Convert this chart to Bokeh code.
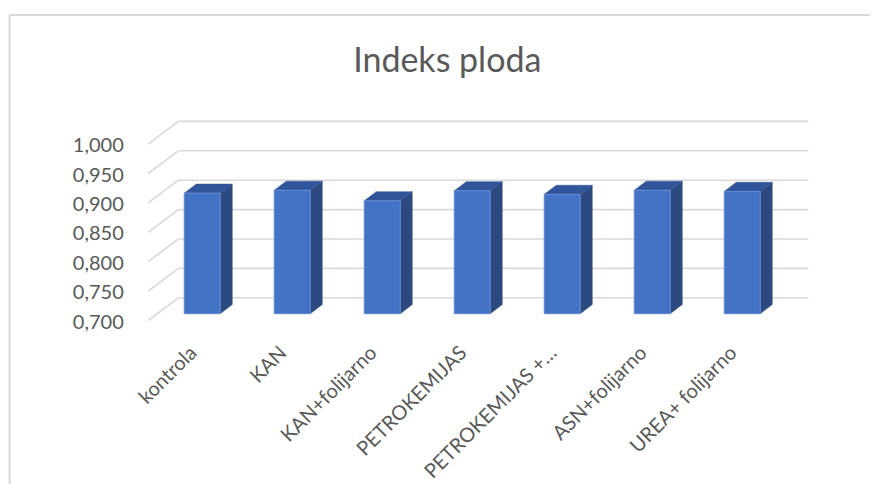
import math
from bokeh.plotting import figure
from bokeh.models import Range1d
from bokeh.core.properties import value
from bokeh.embed import file_html
from bokeh.resources import INLINE

# ---- data ----
categories = ["kontrola", "KAN", "KAN+folijarno", "PETROKEMIJAS",
              "PETROKEMIJAS +…", "ASN+folijarno", "UREA+ folijarno"]
indeks = [0.905, 0.910, 0.892, 0.909, 0.903, 0.910, 0.908]
y_ticks = [0.700, 0.750, 0.800, 0.850, 0.900, 0.950, 1.000]
y_tick_labels = ["0,700", "0,750", "0,800", "0,850", "0,900", "0,950", "1,000"]
title_text = "Indeks ploda"

# ---- layout constants (pixels) ----
W, H = 870, 484
PX_X = 90.0          # px per category
PX_Y = 588.0         # px per value unit
X0 = 192.75          # px from left of figure to category 0 (front plane)
Y0 = 320.0           # px from top of figure to value 0.700 (front plane)
YMIN = 0.700
DX_BACK = 30.0 / PX_X      # depth offset to back wall (x, data units)
DY_BACK = 22.7 / PX_Y      # depth offset to back wall (y, data units)
F1, F2 = 0.3, 0.7          # bar front / back depth fraction
BW = 36.0 / PX_X           # bar width
FONT = "Lato"
GREY = "#595959"
GRID = "#d9d9d9"

x_range = Range1d(-X0 / PX_X, (W - X0) / PX_X)
y_range = Range1d(YMIN - (H - Y0) / PX_Y, YMIN + Y0 / PX_Y)

p = figure(width=W, height=H, x_range=x_range, y_range=y_range,
           output_backend="svg", toolbar_location=None,
           x_axis_location=None, y_axis_location=None,
           min_border=0, outline_line_color=None,
           background_fill_color="white", border_fill_color="white")
p.grid.visible = False

n = len(categories)
left_edge = -0.5
right_edge = n - 0.5

# ---- chart border (left and top lines) ----
bx = x_range.start + 9.0 / PX_X
by = y_range.end - 14.5 / PX_Y
p.line([bx, bx], [y_range.start, by], line_color=GRID, line_width=2)
p.line([bx, x_range.end], [by, by], line_color=GRID, line_width=2)

# ---- gridlines: back wall + side wall diagonals ----
p.segment(x0=[left_edge + DX_BACK] * len(y_ticks), y0=[t + DY_BACK for t in y_ticks],
          x1=[right_edge + DX_BACK] * len(y_ticks), y1=[t + DY_BACK for t in y_ticks],
          line_color=GRID, line_width=1.6)
p.segment(x0=[left_edge] * len(y_ticks), y0=y_ticks,
          x1=[left_edge + DX_BACK] * len(y_ticks), y1=[t + DY_BACK for t in y_ticks],
          line_color=GRID, line_width=1.6)

# ---- 3D bars ----
fx0, fx1, fy0, fy1 = [], [], [], []
side_xs, side_ys, top_xs, top_ys = [], [], [], []
ddx = (F2 - F1) * DX_BACK
ddy = (F2 - F1) * DY_BACK
for i, v in enumerate(indeks):
    x0 = i - BW / 2 + F1 * DX_BACK
    x1 = i + BW / 2 + F1 * DX_BACK
    y0 = YMIN + F1 * DY_BACK
    y1 = v + F1 * DY_BACK
    fx0.append(x0); fx1.append(x1); fy0.append(y0); fy1.append(y1)
    side_xs.append([x1, x1 + ddx, x1 + ddx, x1])
    side_ys.append([y0, y0 + ddy, y1 + ddy, y1])
    top_xs.append([x0, x1, x1 + ddx, x0 + ddx])
    top_ys.append([y1, y1, y1 + ddy, y1 + ddy])

p.patches(side_xs, side_ys, fill_color="#2C4A80", line_color="#2C4A80", line_width=0.5)
p.patches(top_xs, top_ys, fill_color="#30559A", line_color="#30559A", line_width=0.5)
p.quad(left=fx0, right=fx1, bottom=fy0, top=fy1,
       fill_color="#4472C4", line_color="#6189D4", line_width=1)

# ---- y tick labels ----
p.text(x=[left_edge] * len(y_ticks), y=y_ticks, text=y_tick_labels,
       x_offset=-24.5, y_offset=1,
       text_font=value(FONT), text_font_size="20px", text_color=GREY,
       text_align="right", text_baseline="middle")

# ---- category labels ----
p.text(x=list(range(n)), y=[YMIN] * n, text=categories,
       x_offset=-1, y_offset=28, angle=math.pi / 4,
       text_font=value(FONT), text_font_size="20px", text_color=GREY,
       text_align="right", text_baseline="middle")

# ---- title ----
p.text(x=[(n - 1) / 2], y=[1.0], text=[title_text],
       x_offset=-16, y_offset=-86,
       text_font=value(FONT), text_font_size="34px", text_color=GREY,
       text_align="center", text_baseline="middle")

open("out.html", "w").write(file_html(p, INLINE))
